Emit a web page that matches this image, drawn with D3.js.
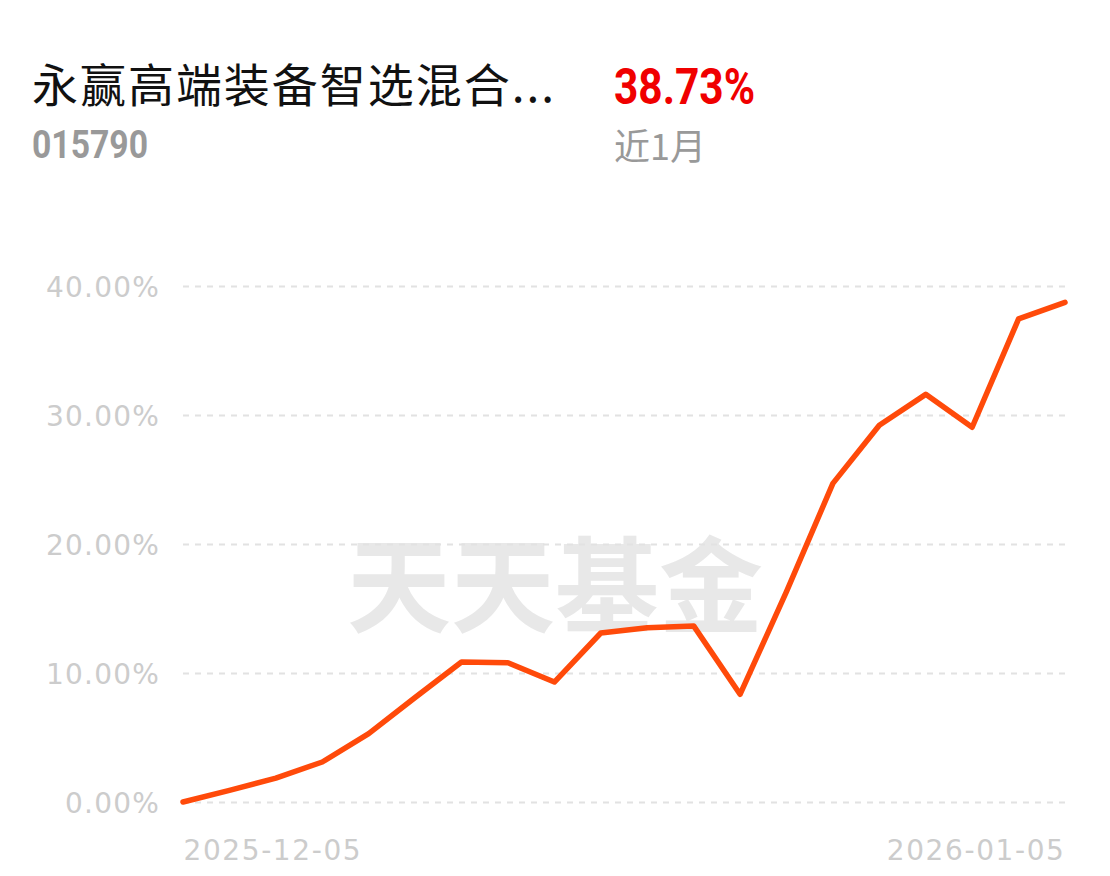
<!DOCTYPE html>
<html><head><meta charset="utf-8">
<script src="https://cdn.jsdelivr.net/npm/d3@7"></script>
<style>
html,body{margin:0;padding:0;background:#fff;}
svg{display:block;}
</style></head>
<body>
<svg id="chart" width="1110" height="876"></svg>
<script>
const fundName = "永赢高端装备智选混合...";
const fundCode = "015790";
const periodReturn = "38.73%";
const periodLabel = "近1月";
const watermark = "天天基金";
const dates = ["2025-12-05","2025-12-08","2025-12-09","2025-12-10","2025-12-11","2025-12-12","2025-12-15","2025-12-16","2025-12-17","2025-12-18","2025-12-19","2025-12-22","2025-12-23","2025-12-24","2025-12-25","2025-12-26","2025-12-29","2025-12-30","2025-12-31","2026-01-05"];
const values = [0, 0.9, 1.85, 3.1, 5.3, 8.1, 10.85, 10.8, 9.3, 13.1, 13.5, 13.65, 8.35, 16.3, 24.7, 29.2, 31.6, 29.05, 37.45, 38.73];
const yTicks = [0, 10, 20, 30, 40];
const xTickLabels = ["2025-12-05", "2026-01-05"];

(function () {
const svg = d3.select("#chart");
const mLeft = 183, mRight = 1065, mTop = 286, mBottom = 802;

const x = d3.scalePoint().domain(dates).range([mLeft, mRight]);
const y = d3.scaleLinear().domain([0, 40]).range([mBottom, mTop]);

// Header texts
svg.append("text").attr("x", 32).attr("y", 102)
  .attr("font-family", "'Noto Sans CJK SC', sans-serif").attr("font-size", 46)
  .attr("textLength", 522).attr("lengthAdjust", "spacing")
  .attr("fill", "#111").text(fundName);
svg.append("text").attr("x", 32).attr("y", 158)
  .attr("font-family", "'Roboto', sans-serif").attr("font-weight", "bold")
  .attr("font-size", 39).attr("fill", "#999")
  .attr("textLength", 116).attr("lengthAdjust", "spacingAndGlyphs").text(fundCode);
svg.append("text").attr("x", 614).attr("y", 104)
  .attr("font-family", "'Roboto', sans-serif").attr("font-weight", "bold")
  .attr("font-size", 50).attr("fill", "#f00000")
  .attr("textLength", 141).attr("lengthAdjust", "spacingAndGlyphs").text(periodReturn);
svg.append("text").attr("x", 614).attr("y", 160)
  .attr("font-family", "'Noto Sans CJK SC', sans-serif").attr("font-size", 36)
  .attr("fill", "#999").text(periodLabel);

// Watermark
svg.append("text").attr("x", 555).attr("y", 625).attr("text-anchor", "middle")
  .attr("font-family", "'Noto Sans CJK SC', sans-serif").attr("font-weight", "bold")
  .attr("font-size", 104).attr("fill", "#e8e8e8").text(watermark);

// Y axis with gridlines
const yAxis = d3.axisLeft(y).tickValues(yTicks)
  .tickFormat(d => d.toFixed(2) + "%")
  .tickSize(-(mRight - mLeft)).tickPadding(23);
const gy = svg.append("g").attr("transform", `translate(${mLeft},0)`).call(yAxis);
gy.select(".domain").remove();
gy.selectAll(".tick line").attr("stroke", "#e2e2e2").attr("stroke-width", 2)
  .attr("stroke-dasharray", "6,6");
gy.selectAll(".tick text").attr("font-family", "'DejaVu Sans', sans-serif")
  .attr("font-size", 28).attr("fill", "#cccccc").attr("letter-spacing", 1.2).attr("dy", "0.36em");

// X axis labels
const xAxis = d3.axisBottom(x).tickValues(xTickLabels).tickSize(0).tickPadding(38);
const gx = svg.append("g").attr("transform", `translate(0,${mBottom})`).call(xAxis);
gx.select(".domain").remove();
gx.selectAll(".tick text").attr("font-family", "'DejaVu Sans', sans-serif")
  .attr("font-size", 28).attr("fill", "#cccccc").attr("letter-spacing", 1.6)
  .attr("text-anchor", (d, i) => i === 0 ? "start" : "end");

// Line
const line = d3.line().x((d, i) => x(dates[i])).y(d => y(d));
svg.append("path").datum(values).attr("d", line)
  .attr("fill", "none").attr("stroke", "#ff4a0a").attr("stroke-width", 5.5)
  .attr("stroke-linejoin", "round").attr("stroke-linecap", "round");
})();
</script>
</body></html>
